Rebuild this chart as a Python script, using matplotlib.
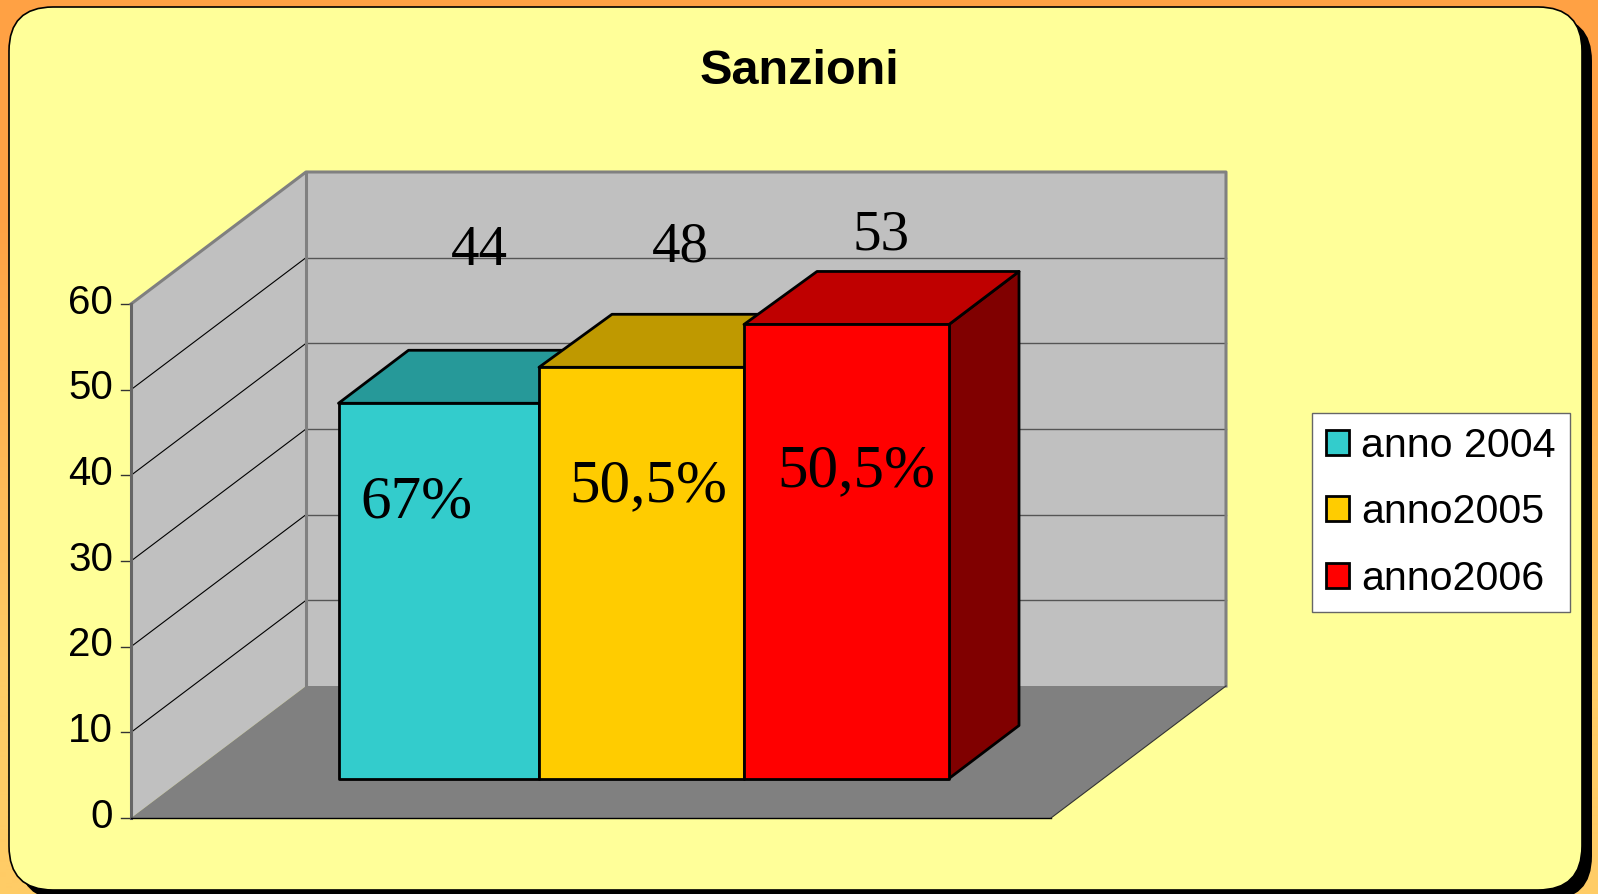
import numpy as np
import matplotlib
matplotlib.use("Agg")
import matplotlib.pyplot as plt
from matplotlib.patches import FancyBboxPatch, Polygon, Patch

##Data##
years = ['anno 2004', 'anno2005', 'anno2006']
values = [43.8, 48, 53] #bar heights
bar_labels = ['44', '48', '53']
percent_labels = ['67%', '50,5%', '50,5%']
y_ticks = [0, 10, 20, 30, 40, 50, 60]

##Colours##
front_colors = ['#33CCCC', '#FFCC00', '#FF0000']
top_colors = ['#269999', '#BF9900', '#BF0000']
side_colors = ['#1A6666', '#806600', '#800000']

##Layout, in pixels of the picture##
W, H = 1598, 894
y0_px = 818.0 #where value 0 sits on the front edge
px_per_unit = 514 / 60
wall_left, wall_right = 131, 1051 #front edge of the floor
depth_x, depth_y = 175, 132 #how far back the walls are
bar_edges = [338.5, 539, 744, 949]
bar_base_px = 778.5
bar_dx, bar_dy = 70, 53
top_shift = [0, 3, 3] #back left corner of the top face
value_x = [479, 680, 881]
value_y = [251, 248, 235]
percent_x = [416, 648, 856]
percent_y = [503, 486, 471]


#turn a pixel row into value units, the main axes y scale is in values
def px_to_val(py):
	return (y0_px - py) / px_per_unit


fig = plt.figure(figsize=(W / 100, H / 100), dpi=100)

#background gradient and the rounded panel, pixel coordinates
bg = fig.add_axes([0, 0, 1, 1])
bg.set_xlim(0, W)
bg.set_ylim(H, 0)
bg.axis('off')
grad = np.array([[1.0, 0.635, 0.267], [1.0, 0.80, 0.40]]).reshape(2, 1, 3)
bg.imshow(grad, extent=[0, W, H, 0], aspect='auto', interpolation='bilinear', zorder=0)
bg.set_xlim(0, W)
bg.set_ylim(H, 0)
shadow = FancyBboxPatch((19, 17), 1573, 883, boxstyle='round,pad=0,rounding_size=44',
	facecolor='black', edgecolor='none', zorder=1)
panel = FancyBboxPatch((9, 7), 1573, 883, boxstyle='round,pad=0,rounding_size=44',
	facecolor='#FFFF99', edgecolor='black', linewidth=1.2, zorder=2)
bg.add_patch(shadow)
bg.add_patch(panel)

#main axes: x in pixels, y in chart values
ax = fig.add_axes([0, 0, 1, 1])
ax.patch.set_alpha(0)
ax.set_xlim(0, W)
ax.set_ylim(px_to_val(H), px_to_val(0))
ax.axis('off')

ymax = y_ticks[-1]
dv = depth_y / px_per_unit
back_left = wall_left + depth_x
back_right = wall_right + depth_x

#walls and floor
ax.add_patch(Polygon([(wall_left, 0), (back_left, dv), (back_left, ymax + dv), (wall_left, ymax)],
	facecolor='#C0C0C0', edgecolor='none', zorder=1))
ax.add_patch(Polygon([(back_left, dv), (back_right, dv), (back_right, ymax + dv), (back_left, ymax + dv)],
	facecolor='#C0C0C0', edgecolor='none', zorder=1))
ax.add_patch(Polygon([(wall_left, 0), (wall_right, 0), (back_right, dv), (back_left, dv)],
	facecolor='#808080', edgecolor='none', zorder=1))

#gridlines and tick labels
for t in y_ticks:
	if t > 0 and t < ymax:
		ax.plot([wall_left, back_left], [t, t + dv], color='black', lw=0.8, zorder=2)
		ax.plot([back_left, back_right], [t + dv, t + dv], color='#555555', lw=1.0, zorder=2)
	ax.plot([wall_left - 10, wall_left], [t, t], color='#333333', lw=1.0, zorder=3)
	ax.text(wall_left - 18, t + 0.15, str(t), ha='right', va='center', fontsize=29,
		family='Liberation Sans', color='black', zorder=5)

#wall borders
wall_gray = '#808080'
ax.plot([wall_left, back_left, back_right, back_right], [ymax, ymax + dv, ymax + dv, dv],
	color=wall_gray, lw=2.2, zorder=3)
ax.plot([back_left, back_left], [dv, ymax + dv], color=wall_gray, lw=2.2, zorder=3)
ax.plot([wall_left, wall_left], [0, ymax], color='#666666', lw=2.2, zorder=3)
ax.plot([wall_left, wall_right], [0, 0], color='black', lw=1.0, zorder=3)
ax.plot([wall_right, back_right], [0, dv], color='#333333', lw=0.8, zorder=3)

#bars, drawn from the left so each one hides the side of the one before
base = px_to_val(bar_base_px)
ddv = bar_dy / px_per_unit
for i in range(0, len(values)):
	x1, x2 = bar_edges[i], bar_edges[i + 1]
	top = base + values[i]
	z = 10 + i
	ax.add_patch(Polygon([(x2, base), (x2 + bar_dx, base + ddv), (x2 + bar_dx, top + ddv), (x2, top)],
		facecolor=side_colors[i], edgecolor='black', lw=2.0, joinstyle='round', zorder=z))
	ax.add_patch(Polygon([(x1, top), (x2, top), (x2 + bar_dx, top + ddv), (x1 + bar_dx + top_shift[i], top + ddv)],
		facecolor=top_colors[i], edgecolor='black', lw=2.0, joinstyle='round', zorder=z))
	ax.add_patch(Polygon([(x1, base), (x2, base), (x2, top), (x1, top)],
		facecolor=front_colors[i], edgecolor='black', lw=2.0, joinstyle='round', zorder=z))
	ax.text(value_x[i], px_to_val(value_y[i]), bar_labels[i], ha='center', va='center', fontsize=41,
		family='Liberation Serif', color='black', zorder=20)
	ax.text(percent_x[i], px_to_val(percent_y[i]), percent_labels[i], ha='center', va='center', fontsize=44,
		family='Liberation Serif', color='black', zorder=20)

ax.text(799, px_to_val(71), 'Sanzioni', ha='center', va='center', fontsize=35, fontweight='bold',
	family='Liberation Sans', color='black', zorder=20)

#legend
handles = [Patch(facecolor=front_colors[i], edgecolor='black', linewidth=2.0, label=years[i]) for i in range(0, 3)]
leg = ax.legend(handles=handles, loc='upper left', bbox_to_anchor=(1312 / W, 1 - 413 / H),
	bbox_transform=fig.transFigure, prop={'family': 'Liberation Sans', 'size': 29.6},
	fancybox=False, framealpha=1, facecolor='white', edgecolor='#666666',
	handlelength=0.57, handleheight=0.57, handletextpad=0.29, labelspacing=0.69, borderpad=0.34, borderaxespad=0)
leg.get_frame().set_linewidth(1.0)
leg.set_zorder(20)

fig.savefig('out.png', dpi=100)
